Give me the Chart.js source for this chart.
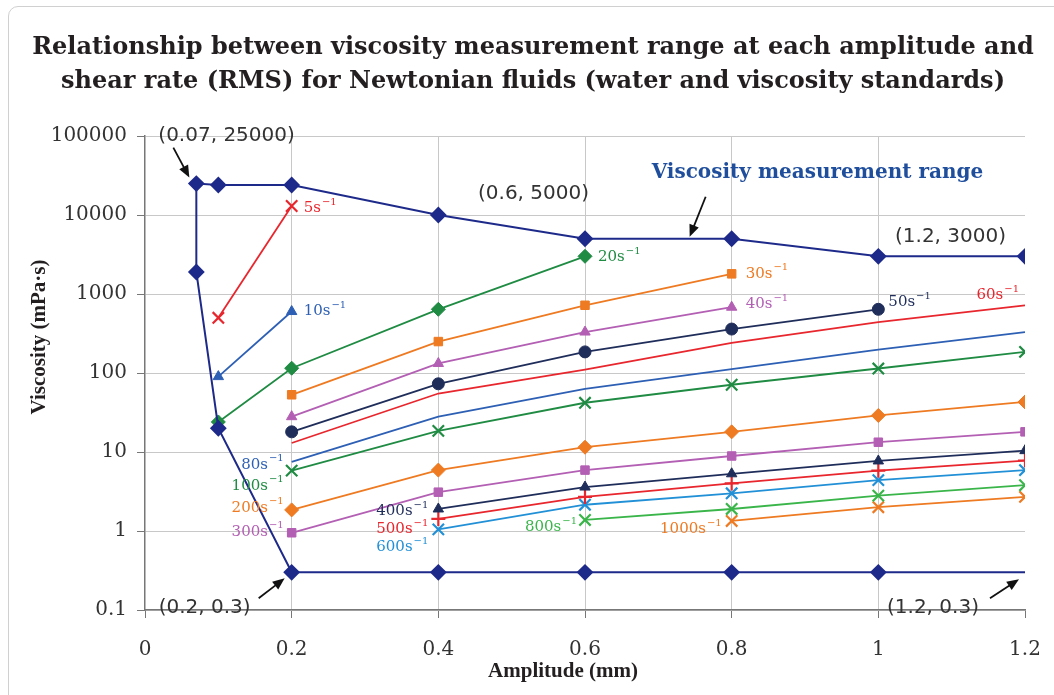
<!DOCTYPE html>
<html>
<head>
<meta charset="utf-8">
<script src="https://cdn.jsdelivr.net/npm/chart.js@4.4.1/dist/chart.umd.min.js"></script>
<style>
  html, body { margin: 0; padding: 0; background: #fff; overflow: hidden; }
  #frame { position: absolute; left: 8px; top: 6px; width: 1100px; height: 700px;
           border: 1.5px solid #d0d0d0; border-radius: 10px; }
  #chart { position: absolute; left: 0; top: 0; }
</style>
</head>
<body>
<div id="frame"></div>
<canvas id="chart" width="1054" height="695"></canvas>
<script>
// Amplituder (mm) som alle kurverne er målt ved
const amplitudes = [0.1, 0.2, 0.4, 0.6, 0.8, 1.0, 1.2];

// Viskositet (mPa·s) pr. forskydningshastighed, null = ikke målt
const visc5 = [500, 13000, null, null, null, null, null];
const visc10 = [90, 600, null, null, null, null, null];
const visc20 = [24, 115, 640, 3000, null, null, null];
const visc30 = [null, 53, 250, 720, 1800, null, null];
const visc40 = [null, 28, 132, 330, 680, null, null];
const visc50 = [null, 18, 73, 185, 360, 640, null];
const visc60 = [null, 13, 55, 110, 240, 440, 720];
const visc80 = [null, 7.5, 28, 63, 112, 198, 330];
const visc100 = [null, 5.8, 18.5, 42, 71, 114, 185];
const visc200 = [null, 1.85, 5.9, 11.5, 18, 29, 43];
const visc300 = [null, 0.95, 3.1, 5.9, 8.9, 13.3, 18];
const visc400 = [null, null, 1.9, 3.6, 5.3, 7.7, 10.4];
const visc500 = [null, null, 1.42, 2.7, 4.0, 5.8, 7.8];
const visc600 = [null, null, 1.05, 2.15, 3.0, 4.4, 5.9];
const visc800 = [null, null, null, 1.38, 1.9, 2.8, 3.8];
const visc1000 = [null, null, null, null, 1.34, 2.0, 2.7];

// Grænsen for måleområdet (kører rundt i ét stræk)
const rangeAmp = [1.2, 1.0, 0.8, 0.6, 0.4, 0.2, 0.1, 0.07, 0.07, 0.1, 0.2, 0.4, 0.6, 0.8, 1.0, 1.2];
const rangeVisc = [3000, 3000, 5000, 5000, 10000, 24000, 24000, 25000, 1900, 20, 0.3, 0.3, 0.3, 0.3, 0.3, 0.3];

const xTicks = [0, 0.2, 0.4, 0.6, 0.8, 1.0, 1.2];
const xTickLabels = ['0', '0.2', '0.4', '0.6', '0.8', '1', '1.2'];
const yTicks = [0.1, 1, 10, 100, 1000, 10000, 100000];
const yTickLabels = ['0.1', '1', '10', '100', '1000', '10000', '100000'];

const RED = '#e8262d', BLUE = '#2d5fb4', GREEN = '#1f8b43', ORANGE = '#ee7a22',
      PURPLE = '#b35fb3', NAVY = '#1f2d5a', SKY = '#2290d6', LIME = '#3ab54a',
      RANGE = '#1e2a8a';

function toPoints(vals) {
    return amplitudes.map((a, i) => ({ x: a, y: vals[i] })).filter(p => p.y != null);
}

function series(name, vals, color, style, radius) {
    const isCross = style === 'crossRot' || style === 'cross';
    return {
        label: name,
        data: toPoints(vals),
        borderColor: color,
        backgroundColor: color,
        pointBorderColor: color,
        pointBackgroundColor: color,
        pointStyle: style,
        pointRadius: radius,
        pointBorderWidth: isCross ? 2.2 : 1,
        borderWidth: 1.8,
        tension: 0
    };
}

const datasets = [
    {
        label: 'Viscosity measurement range',
        data: rangeAmp.map((a, i) => ({ x: a, y: rangeVisc[i] })),
        borderColor: RANGE,
        backgroundColor: RANGE,
        pointStyle: 'rectRot',
        pointRadius: rangeAmp.map((a, i) => i === rangeAmp.length - 1 ? 0 : 7),
        borderWidth: 2,
        tension: 0
    },
    series('5s', visc5, RED, 'crossRot', 8),
    series('10s', visc10, BLUE, 'triangle', 6),
    series('20s', visc20, GREEN, 'rectRot', 7),
    series('30s', visc30, ORANGE, 'rect', 6),
    series('40s', visc40, PURPLE, 'triangle', 6),
    series('50s', visc50, NAVY, 'circle', 6),
    series('60s', visc60, RED, 'circle', 0),
    series('80s', visc80, BLUE, 'circle', 0),
    series('100s', visc100, GREEN, 'crossRot', 8),
    series('200s', visc200, ORANGE, 'rectRot', 7),
    series('300s', visc300, PURPLE, 'rect', 6),
    series('400s', visc400, NAVY, 'triangle', 6),
    series('500s', visc500, RED, 'cross', 7),
    series('600s', visc600, SKY, 'crossRot', 8),
    series('800s', visc800, LIME, 'crossRot', 8),
    series('1000s', visc1000, ORANGE, 'crossRot', 8)
];

// Etiketter ved kurverne (placering i forhold til et datapunkt)
const rateLabels = [
    { t: '5', c: RED, x: 0.2, y: 13000, dx: 12, dy: 2, a: 'left' },
    { t: '10', c: BLUE, x: 0.2, y: 600, dx: 12, dy: 0, a: 'left' },
    { t: '20', c: GREEN, x: 0.6, y: 3000, dx: 13, dy: 1, a: 'left' },
    { t: '30', c: ORANGE, x: 0.8, y: 1800, dx: 14, dy: 0, a: 'left' },
    { t: '40', c: PURPLE, x: 0.8, y: 680, dx: 14, dy: -3, a: 'left' },
    { t: '50', c: NAVY, x: 1.0, y: 640, dx: 10, dy: -7, a: 'left' },
    { t: '60', c: RED, x: 1.2, y: 720, dx: -6, dy: -10, a: 'right' },
    { t: '80', c: BLUE, x: 0.2, y: 7.5, dx: -8, dy: 3, a: 'right' },
    { t: '100', c: GREEN, x: 0.2, y: 5.8, dx: -8, dy: 15, a: 'right' },
    { t: '200', c: ORANGE, x: 0.2, y: 1.85, dx: -8, dy: -2, a: 'right' },
    { t: '300', c: PURPLE, x: 0.2, y: 0.95, dx: -8, dy: -1, a: 'right' },
    { t: '400', c: NAVY, x: 0.4, y: 1.9, dx: -10, dy: 2, a: 'right' },
    { t: '500', c: RED, x: 0.4, y: 1.42, dx: -10, dy: 10, a: 'right' },
    { t: '600', c: SKY, x: 0.4, y: 1.05, dx: -10, dy: 18, a: 'right' },
    { t: '800', c: LIME, x: 0.6, y: 1.38, dx: -8, dy: 7, a: 'right' },
    { t: '1000', c: ORANGE, x: 0.8, y: 1.34, dx: -10, dy: 8, a: 'right' }
];

const notes = [
    { t: '(0.07, 25000)', x: 0.07, y: 25000, dx: -38, dy: -48, arrow: [-23, -36, -7, -6] },
    { t: '(0.6, 5000)', x: 0.6, y: 5000, dx: -107, dy: -45 },
    { t: '(1.2, 3000)', x: 1.2, y: 3000, dx: -130, dy: -20 },
    { t: '(0.2, 0.3)', x: 0.2, y: 0.3, dx: -133, dy: 35, arrow: [-33, 26, -7, 6] },
    { t: '(1.2, 0.3)', x: 1.2, y: 0.3, dx: -138, dy: 35, arrow: [-35, 26, -6, 7] }
];

function drawArrow(c, x1, y1, x2, y2) {
    const ang = Math.atan2(y2 - y1, x2 - x1);
    const hl = 12, hw = 5;
    c.strokeStyle = '#111';
    c.fillStyle = '#111';
    c.lineWidth = 1.8;
    c.beginPath();
    c.moveTo(x1, y1);
    c.lineTo(x2 - hl * 0.8 * Math.cos(ang), y2 - hl * 0.8 * Math.sin(ang));
    c.stroke();
    c.beginPath();
    c.moveTo(x2, y2);
    c.lineTo(x2 - hl * Math.cos(ang) + hw * Math.sin(ang), y2 - hl * Math.sin(ang) - hw * Math.cos(ang));
    c.lineTo(x2 - hl * Math.cos(ang) - hw * Math.sin(ang), y2 - hl * Math.sin(ang) + hw * Math.cos(ang));
    c.closePath();
    c.fill();
}

const textPlugin = {
    id: 'texts',
    afterDraw(chart) {
        const c = chart.ctx;
        const xs = chart.scales.x, ys = chart.scales.y;
        c.save();

        // Titel
        c.fillStyle = '#231f20';
        c.font = 'bold 24px "DejaVu Serif"';
        c.textAlign = 'center';
        c.textBaseline = 'middle';
        c.fillText('Relationship between viscosity measurement range at each amplitude and', 533, 48);
        c.fillText('shear rate (RMS) for Newtonian fluids (water and viscosity standards)', 533, 82);

        // Aksetitler
        c.font = 'bold 21px "Liberation Serif"';
        c.fillText('Amplitude (mm)', 563, 672);
        c.save();
        c.translate(40, 337);
        c.rotate(-Math.PI / 2);
        c.fillText('Viscosity (mPa·s)', 0, 0);
        c.restore();

        // Kurveetiketter med s^-1
        c.textBaseline = 'middle';
        rateLabels.forEach(l => {
            const px = xs.getPixelForValue(l.x) + l.dx;
            const py = ys.getPixelForValue(l.y) + l.dy;
            c.font = '15px "DejaVu Serif"';
            const base = l.t + 's';
            const wb = c.measureText(base).width;
            c.font = '10px "DejaVu Serif"';
            const ws = c.measureText('\u22121').width;
            const left = l.a === 'right' ? px - wb - ws - 1 : px;
            c.textAlign = 'left';
            c.fillStyle = l.c;
            c.font = '15px "DejaVu Serif"';
            c.fillText(base, left, py);
            c.font = '10px "DejaVu Serif"';
            c.fillText('\u22121', left + wb + 1, py - 6);
        });

        // Koordinatnoter og pile
        c.font = '20px "DejaVu Sans"';
        c.textAlign = 'left';
        notes.forEach(n => {
            const px = xs.getPixelForValue(n.x), py = ys.getPixelForValue(n.y);
            c.fillStyle = '#333';
            c.fillText(n.t, px + n.dx, py + n.dy);
            if (n.arrow) drawArrow(c, px + n.arrow[0], py + n.arrow[1], px + n.arrow[2], py + n.arrow[3]);
        });

        // Forklaring af måleområdet
        const rx = xs.getPixelForValue(0.8), ry = ys.getPixelForValue(5000);
        c.font = 'bold 20px "DejaVu Serif"';
        c.fillStyle = '#1f4e9c';
        c.fillText('Viscosity measurement range', rx - 80, ry - 66);
        drawArrow(c, rx - 26, ry - 42, rx - 42, ry - 2);

        c.restore();
    }
};

new Chart(document.querySelector('#chart'), {
    type: 'line',
    data: { datasets: datasets },
    options: {
        responsive: false,
        animation: false,
        layout: { padding: { top: 136, right: 29, left: 0, bottom: 0 } },
        scales: {
            x: {
                type: 'linear',
                min: 0,
                max: 1.2,
                afterBuildTicks: s => { s.ticks = xTicks.map(v => ({ value: v })); },
                afterFit: s => { s.height = 85; s.paddingLeft = 0; s.paddingRight = 0; },
                ticks: {
                    callback: (v, i) => xTickLabels[i],
                    color: '#333',
                    font: { family: 'DejaVu Serif', size: 20 },
                    padding: 20,
                    maxRotation: 0,
                    autoSkip: false
                },
                grid: {
                    color: ctx => (ctx.tick && (ctx.tick.value === 0 || ctx.tick.value === 1.2)) ? 'rgba(0,0,0,0)' : '#c8c8c8',
                    tickColor: '#777',
                    tickLength: 8,
                    lineWidth: 1
                },
                border: { color: '#777', width: 1.5 }
            },
            y: {
                type: 'logarithmic',
                min: 0.1,
                max: 100000,
                afterBuildTicks: s => { s.ticks = yTicks.map(v => ({ value: v })); },
                afterFit: s => { s.width = 145; },
                ticks: {
                    callback: (v, i) => yTickLabels[i],
                    color: '#333',
                    font: { family: 'DejaVu Serif', size: 20 },
                    padding: 10,
                    autoSkip: false
                },
                grid: {
                    color: '#c8c8c8',
                    tickColor: '#777',
                    tickLength: 8,
                    lineWidth: 1
                },
                border: { color: '#777', width: 1.5 }
            }
        },
        plugins: {
            legend: { display: false },
            title: { display: false },
            tooltip: { enabled: false }
        }
    },
    plugins: [textPlugin]
});
</script>
</body>
</html>
